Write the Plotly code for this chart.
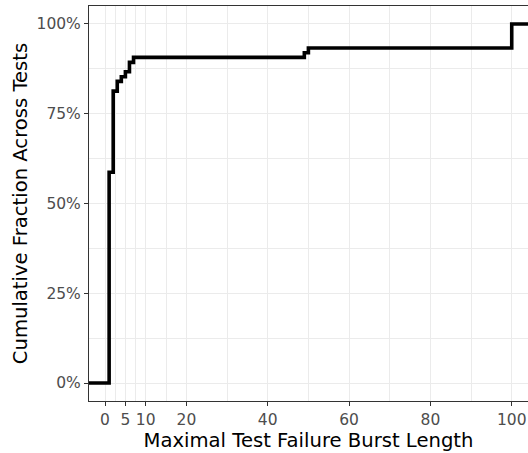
import plotly.graph_objects as go

# Data (ECDF of maximal burst length)
burst_length = [1, 2, 3, 4, 5, 6, 7, 49, 50, 100]
cum_fraction = [0.587, 0.813, 0.840, 0.853, 0.867, 0.893, 0.907, 0.920, 0.933, 1.000]
x_tick_vals = [0, 5, 10, 20, 40, 60, 80, 100]
x_minor_vals = [2.5, 7.5, 15, 30, 50, 70, 90]
y_tick_vals = [0, 0.25, 0.5, 0.75, 1.0]
y_minor_vals = [0.125, 0.375, 0.625, 0.875]

x_range = [-3.95, 104.0]
y_range = [-0.05, 1.05]

# ECDF padded to the panel edges (like -Inf / Inf in ggplot)
xs = [x_range[0]] + burst_length + [x_range[1]]
ys = [0.0] + cum_fraction + [cum_fraction[-1]]

fig = go.Figure()
fig.add_trace(go.Scatter(
    x=xs, y=ys, mode="lines", line=dict(color="black", width=3.6, shape="hv"),
    hoverinfo="skip", showlegend=False,
))

grid = "#EBEBEB"
border = "#333333"
fig.update_layout(
    width=528, height=453,
    margin=dict(l=89, r=0, t=6, b=52, autoexpand=False),
    paper_bgcolor="white", plot_bgcolor="white",
    font=dict(family="DejaVu Sans", color="black"),
)
fig.update_xaxes(
    range=x_range, tickmode="array", tickvals=x_tick_vals,
    showgrid=True, gridcolor=grid, gridwidth=1.1,
    minor=dict(tickmode="array", tickvals=x_minor_vals, showgrid=True,
               gridcolor=grid, gridwidth=0.7, ticks=""),
    zeroline=False, showline=True, linecolor=border, linewidth=1.1, mirror=True,
    ticks="outside", ticklen=4, tickwidth=1.1, tickcolor=border,
    tickfont=dict(size=15.5, color="#4D4D4D", family="DejaVu Sans"),
    title=dict(text="Maximal Test Failure Burst Length", standoff=2,
               font=dict(size=19.6, color="black", family="DejaVu Sans")),
    automargin=False,
)
fig.update_yaxes(
    range=y_range, tickmode="array", tickvals=y_tick_vals, tickformat=".0%",
    showgrid=True, gridcolor=grid, gridwidth=1.1,
    minor=dict(tickmode="array", tickvals=y_minor_vals, showgrid=True,
               gridcolor=grid, gridwidth=0.7, ticks=""),
    zeroline=False, showline=True, linecolor=border, linewidth=1.1, mirror=False,
    ticks="outside", ticklen=4, tickwidth=1.1, tickcolor=border,
    tickfont=dict(size=15.5, color="#4D4D4D", family="DejaVu Sans"),
    title=dict(text="Cumulative Fraction Across Tests", standoff=3,
               font=dict(size=19.6, color="black", family="DejaVu Sans")),
    automargin=False,
)

fig.write_html(
    "out.html",
    config={"displayModeBar": False},
    post_script="document.body.style.margin='0';document.body.style.overflow='hidden';",
)
